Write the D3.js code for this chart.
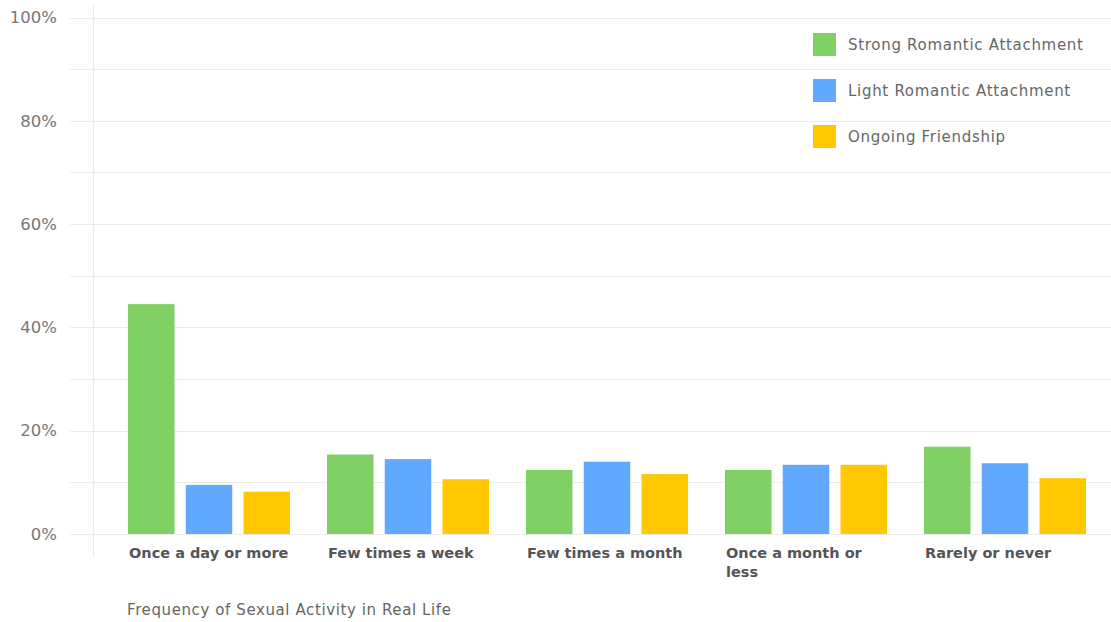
<!DOCTYPE html>
<html>
<head>
<meta charset="utf-8">
<script src="https://cdn.jsdelivr.net/npm/d3@7"></script>
<style>
  body { margin: 0; background: #fff; }
  text { font-family: "DejaVu Sans", sans-serif; }
</style>
</head>
<body>
<script>
var categories = ["Once a day or more", "Few times a week", "Few times a month", "Once a month or less", "Rarely or never"];
var seriesNames = ["Strong Romantic Attachment", "Light Romantic Attachment", "Ongoing Friendship"];
var strongValues = [44.5, 15.4, 12.4, 12.4, 16.9];
var lightValues = [9.5, 14.5, 14.0, 13.4, 13.7];
var friendValues = [8.2, 10.6, 11.6, 13.4, 10.8];
var yTicks = [0, 20, 40, 60, 80, 100];
var colors = ["#80d065", "#61a9ff", "#ffc800"];

var width = 1111;
var height = 622;

var series = [strongValues, lightValues, friendValues];

var svg = d3.select("body").append("svg").attr("width", width).attr("height", height);

var y = d3.scaleLinear().domain([0, 100]).range([534, 17.5]);
var x0 = d3.scaleBand().domain(categories).range([109.5, 1104.5]).paddingInner(0.186).paddingOuter(0.093);
var x1 = d3.scaleBand().domain([0, 1, 2]).range([0, x0.bandwidth()]).paddingInner(0.195).paddingOuter(0);

// gridlines every 10%
svg.append("g").selectAll("line")
  .data(d3.range(0, 101, 10))
  .enter().append("line")
    .attr("x1", 70).attr("x2", width)
    .attr("y1", function(d){ return Math.round(y(d)) + 0.5; })
    .attr("y2", function(d){ return Math.round(y(d)) + 0.5; })
    .attr("stroke", "#ececec");

svg.append("line")
  .attr("x1", 93.5).attr("x2", 93.5).attr("y1", 5).attr("y2", 557)
  .attr("stroke", "#ececec");

// y axis labels
var yAxis = svg.append("g").attr("transform", "translate(57,0)")
  .call(d3.axisLeft(y).tickValues(yTicks).tickSize(0).tickPadding(0).tickFormat(function(d){ return d + "%"; }));
yAxis.select(".domain").remove();
yAxis.selectAll("text").attr("font-size", 16.5).attr("fill", "#777").attr("font-family", "DejaVu Sans");

// bars
var groups = svg.append("g").selectAll("g")
  .data(categories)
  .enter().append("g")
    .attr("transform", function(d){ return "translate(" + x0(d) + ",0)"; });

groups.selectAll("rect")
  .data(function(d, i){ return series.map(function(s, j){ return {k: j, v: s[i]}; }); })
  .enter().append("rect")
    .attr("x", function(d){ return x1(d.k); })
    .attr("y", function(d){ return y(d.v); })
    .attr("width", x1.bandwidth())
    .attr("height", function(d){ return y(0) - y(d.v); })
    .attr("fill", function(d){ return colors[d.k]; });

// category labels, wrapped to the band width
groups.append("text")
  .attr("y", 558)
  .attr("font-size", 14.5)
  .attr("font-weight", "bold")
  .attr("fill", "#555")
  .each(function(d){
    var t = d3.select(this);
    var words = d.split(" ");
    var line = [];
    var tspan = t.append("tspan").attr("x", 1).attr("dy", 0);
    words.forEach(function(w){
      line.push(w);
      tspan.text(line.join(" "));
      if (tspan.node().getComputedTextLength() > x0.bandwidth() && line.length > 1) {
        line.pop();
        tspan.text(line.join(" "));
        line = [w];
        tspan = t.append("tspan").attr("x", 1).attr("dy", 19).text(w);
      }
    });
  });

// axis title
svg.append("text")
  .attr("x", 127).attr("y", 615)
  .attr("font-size", 15)
  .attr("letter-spacing", 0.6)
  .attr("fill", "#666")
  .text("Frequency of Sexual Activity in Real Life");

// legend
var legend = svg.append("g").selectAll("g")
  .data(seriesNames)
  .enter().append("g")
    .attr("transform", function(d, i){ return "translate(813," + (33 + i * 46) + ")"; });

legend.append("rect")
  .attr("width", 23).attr("height", 23)
  .attr("fill", function(d, i){ return colors[i]; });

legend.append("text")
  .attr("x", 35).attr("y", 11.5)
  .attr("dominant-baseline", "central")
  .attr("font-size", 15)
  .attr("letter-spacing", 0.7)
  .attr("fill", "#666")
  .text(function(d){ return d; });
</script>
</body>
</html>
